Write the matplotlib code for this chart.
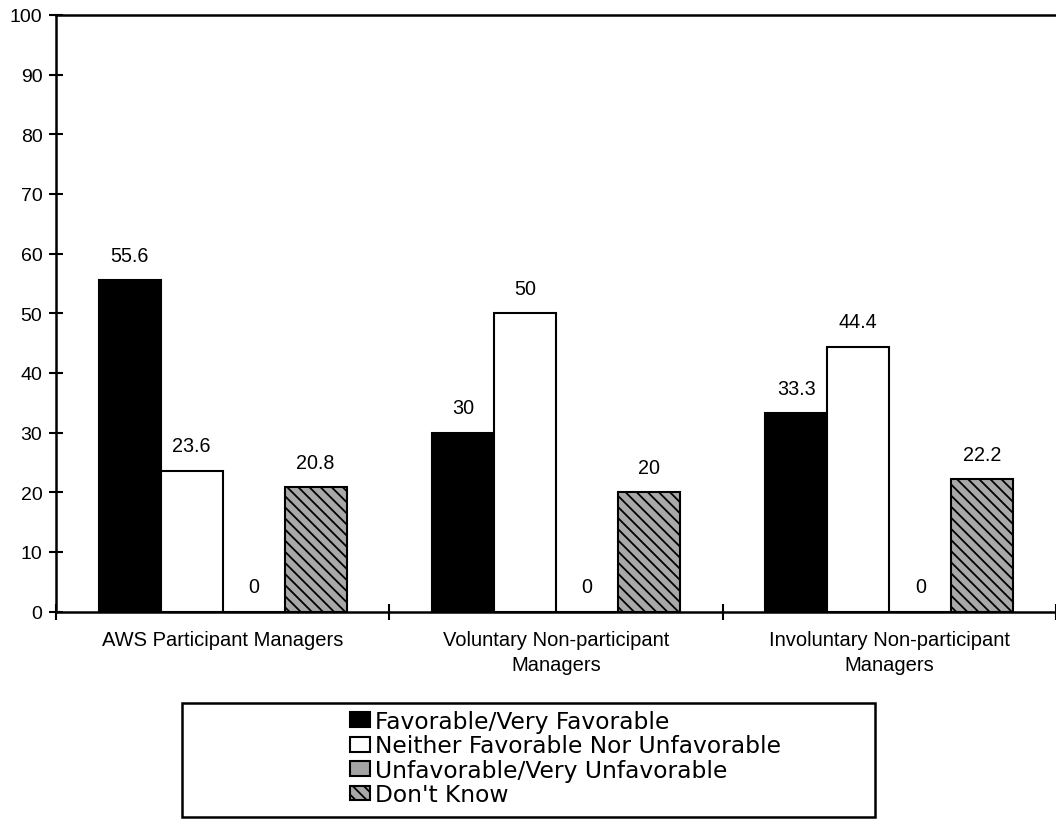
import matplotlib
matplotlib.use("Agg")
import matplotlib.pyplot as plt
from matplotlib.patches import Rectangle
import numpy as np

plt.rcParams['font.family'] = ['Liberation Sans', 'DejaVu Sans']

categories = ["AWS Participant Managers",
              "Voluntary Non-participant\nManagers",
              "Involuntary Non-participant\nManagers"]
series_names = ["Favorable/Very Favorable",
                "Neither Favorable Nor Unfavorable",
                "Unfavorable/Very Unfavorable",
                "Don't Know"]
favorable = [55.6, 30, 33.3]
neither = [23.6, 50, 44.4]
unfavorable = [0, 0, 0]
dont_know = [20.8, 20, 22.2]
y_ticks = [0, 10, 20, 30, 40, 50, 60, 70, 80, 90, 100]

series = [favorable, neither, unfavorable, dont_know]
styles = [
    dict(facecolor="black", hatch=None),
    dict(facecolor="white", hatch=None),
    dict(facecolor="#a4a4a4", hatch=None),
    dict(facecolor="#a8a8a8", hatch="\\\\\\"),
]

W, H = 1056, 820
fig = plt.figure(figsize=(W / 100, H / 100), dpi=100)
ax = fig.add_axes([56 / W, 1 - 612.5 / H, 1 - 56 / W, (612.5 - 16) / H])

plt.rcParams['hatch.linewidth'] = 1.3
x = np.arange(len(categories))
bw = 0.186
offsets = (np.arange(4) - 1.5) * bw
handles = []
for vals, off, st, name in zip(series, offsets, styles, series_names):
    bars = ax.bar(x + off, vals, width=bw, facecolor=st["facecolor"],
                  edgecolor="black", linewidth=1.5, hatch=st["hatch"],
                  label=name, zorder=2)
    handles.append(bars)
    for rect, v in zip(bars, vals):
        ax.annotate(f"{v:g}", (rect.get_x() + rect.get_width() / 2, v),
                    xytext=(0, 11), textcoords="offset points",
                    ha="center", va="bottom", fontsize=14.2)

ax.set_xlim(-0.5, 2.5)
ax.set_ylim(0, 100)
ax.set_yticks(y_ticks)
ax.tick_params(axis="y", direction="inout", length=9.5, width=1.5,
               labelsize=14, pad=5)
ax.set_xticks(x)
ax.set_xticklabels(categories, fontsize=14.5, linespacing=1.4)
ax.tick_params(axis="x", which="major", length=0, pad=13)
ax.set_xticks([-0.5, 0.5, 1.5, 2.5], minor=True)
ax.tick_params(axis="x", which="minor", direction="inout", length=12, width=1.5)

for side in ["left", "bottom", "top"]:
    ax.spines[side].set_linewidth(1.8)
ax.spines["right"].set_visible(False)

# legend frame drawn in figure space
fig.patches.append(Rectangle((182 / W, 1 - 818 / H), (875 - 182) / W,
                             (818 - 704) / H, transform=fig.transFigure,
                             facecolor="none", edgecolor="black",
                             linewidth=1.8))
fig.legend(handles=handles, loc="upper left",
           bbox_to_anchor=(350 / W, 1 - 711 / H), frameon=False,
           prop={"family": ["DejaVu Sans"], "size": 16.8},
           handlelength=0.86, handleheight=0.6,
           handletextpad=0.22, labelspacing=0.06, borderaxespad=0,
           borderpad=0)

fig.savefig("out.png", dpi=100)
